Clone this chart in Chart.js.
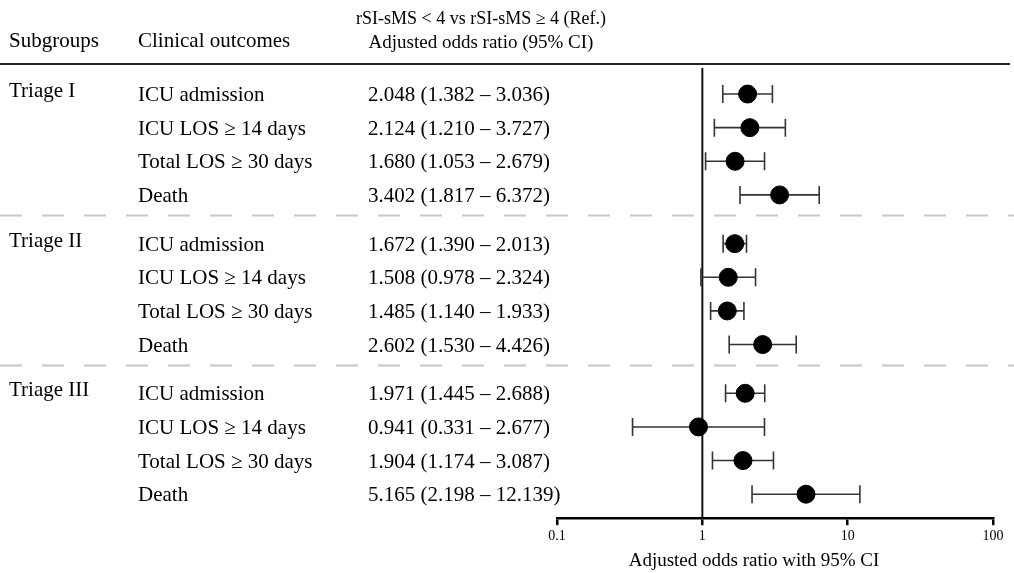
<!DOCTYPE html>
<html>
<head>
<meta charset="utf-8">
<script src="https://cdn.jsdelivr.net/npm/chart.js@4"></script>
<style>
  html, body { margin: 0; padding: 0; background: #fff; }
  #wrap { width: 1014px; height: 573px; }
</style>
</head>
<body>
<div id="wrap"><canvas id="myChart" width="1014" height="573"></canvas></div>
<script>
const subgroups = ["Triage I", "Triage II", "Triage III"];
const outcomes = ["ICU admission", "ICU LOS \u2265 14 days", "Total LOS \u2265 30 days", "Death"];
const oddsRatio = [
  [2.048, 2.124, 1.680, 3.402],
  [1.672, 1.508, 1.485, 2.602],
  [1.971, 0.941, 1.904, 5.165]
];
const lowerCI = [
  [1.382, 1.210, 1.053, 1.817],
  [1.390, 0.978, 1.140, 1.530],
  [1.445, 0.331, 1.174, 2.198]
];
const upperCI = [
  [3.036, 3.727, 2.679, 6.372],
  [2.013, 2.324, 1.933, 4.426],
  [2.688, 2.677, 3.087, 12.139]
];
const xTicks = [0.1, 1, 10, 100];

const FONT = "'Liberation Serif', 'Times New Roman', serif";
const groupGap = 0.45;
function rowPos(g, r) { return g * (outcomes.length + groupGap) + r; }

// build point list
let points = [];
let rows = [];
subgroups.forEach((sg, g) => {
  outcomes.forEach((oc, r) => {
    points.push({ x: oddsRatio[g][r], y: rowPos(g, r) });
    rows.push({ g: g, r: r, lo: lowerCI[g][r], hi: upperCI[g][r], or: oddsRatio[g][r] });
  });
});

const fmt = (v) => v.toFixed(3);

const forestPlugin = {
  id: "forest",
  beforeDatasetsDraw(chart) {
    const ctx = chart.ctx;
    const xs = chart.scales.x, ys = chart.scales.y;
    const area = chart.chartArea;
    ctx.save();
    // header
    ctx.fillStyle = "#000";
    ctx.textBaseline = "alphabetic";
    ctx.font = "21px " + FONT;
    ctx.textAlign = "left";
    ctx.fillText("Subgroups", 9, 47);
    ctx.fillText("Clinical outcomes", 138, 47);
    ctx.textAlign = "center";
    ctx.font = "18px " + FONT;
    ctx.fillText("rSI-sMS < 4 vs rSI-sMS \u2265 4 (Ref.)", 481, 24);
    ctx.font = "19px " + FONT;
    ctx.fillText("Adjusted odds ratio (95% CI)", 481, 48);
    ctx.strokeStyle = "#222";
    ctx.lineWidth = 2;
    ctx.beginPath();
    ctx.moveTo(0, 64);
    ctx.lineTo(1010, 64);
    ctx.stroke();

    // group separators
    ctx.strokeStyle = "#c8c8c8";
    ctx.lineWidth = 2;
    ctx.setLineDash([22, 20]);
    for (let g = 0; g < subgroups.length - 1; g++) {
      const yy = Math.round(ys.getPixelForValue(rowPos(g, outcomes.length - 1) + 0.6)) + 0.5;
      ctx.beginPath();
      ctx.moveTo(0, yy);
      ctx.lineTo(1014, yy);
      ctx.stroke();
    }
    ctx.setLineDash([]);

    // table text
    ctx.fillStyle = "#000";
    ctx.font = "21px " + FONT;
    ctx.textAlign = "left";
    subgroups.forEach((sg, g) => {
      ctx.fillText(sg, 9, ys.getPixelForValue(rowPos(g, 0)) + 3);
    });
    rows.forEach((row) => {
      const yy = ys.getPixelForValue(rowPos(row.g, row.r)) + 7;
      ctx.fillText(outcomes[row.r], 138, yy);
      ctx.fillText(fmt(row.or) + " (" + fmt(row.lo) + " \u2013 " + fmt(row.hi) + ")", 368, yy);
    });

    // axis title
    ctx.font = "19px " + FONT;
    ctx.textAlign = "center";
    ctx.fillText("Adjusted odds ratio with 95% CI", 754, 566);

    // reference line at 1
    const x1 = xs.getPixelForValue(1);
    ctx.strokeStyle = "#111";
    ctx.lineWidth = 2;
    ctx.beginPath();
    ctx.moveTo(x1, area.top);
    ctx.lineTo(x1, area.bottom);
    ctx.stroke();

    // error bars
    ctx.strokeStyle = "#333";
    ctx.lineWidth = 1.6;
    rows.forEach((row) => {
      const yy = ys.getPixelForValue(rowPos(row.g, row.r));
      const xl = xs.getPixelForValue(row.lo), xh = xs.getPixelForValue(row.hi);
      ctx.beginPath();
      ctx.moveTo(xl, yy); ctx.lineTo(xh, yy);
      ctx.moveTo(xl, yy - 9); ctx.lineTo(xl, yy + 9);
      ctx.moveTo(xh, yy - 9); ctx.lineTo(xh, yy + 9);
      ctx.stroke();
    });
    ctx.restore();
  }
};

const config = {
  type: "scatter",
  data: {
    datasets: [
      {
        label: "Adjusted odds ratio",
        data: points,
        backgroundColor: "#000",
        borderColor: "#000",
        pointRadius: 9,
        pointHoverRadius: 9,
      },
    ],
  },
  options: {
    responsive: false,
    animation: false,
    events: [],
    layout: { padding: { left: 557, right: 21, top: 68, bottom: 25 } },
    plugins: { legend: { display: false }, tooltip: { enabled: false } },
    scales: {
      x: {
        type: "logarithmic",
        min: 0.1,
        max: 100,
        afterBuildTicks: (axis) => { axis.ticks = xTicks.map((v) => ({ value: v })); },
        ticks: {
          color: "#000",
          font: { family: FONT, size: 14 },
          padding: 3,
          maxRotation: 0,
          callback: (v) => String(v),
        },
        grid: { drawOnChartArea: false, drawTicks: true, tickLength: 7, color: "#000", lineWidth: 2.5 },
        border: { display: true, color: "#000", width: 2.5 },
      },
      y: {
        type: "linear",
        display: false,
        reverse: true,
        min: -0.774,
        max: 12.614,
      },
    },
  },
  plugins: [forestPlugin],
};

const myChart = new Chart(document.getElementById("myChart"), config);
</script>
</body>
</html>
